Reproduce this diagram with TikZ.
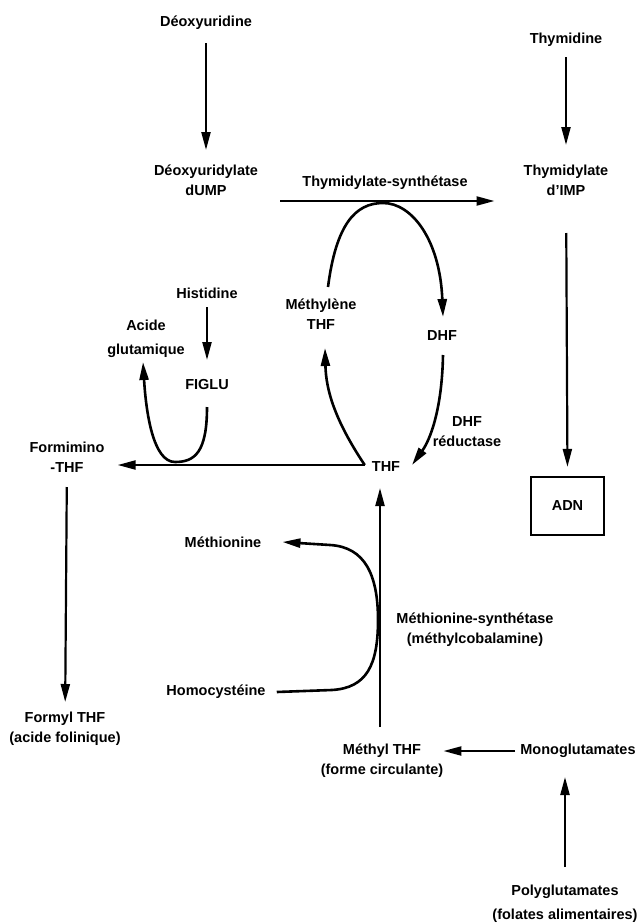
\documentclass[tikz,border=0pt]{standalone}
\usepackage{fontspec}
\setmainfont{Liberation Sans}
\usetikzlibrary{arrows.meta}
\begin{document}
\begin{tikzpicture}[x=1pt,y=-1pt,
  lbl/.style={font=\fontsize{14.5}{20}\selectfont\bfseries, align=center, inner sep=0pt},
  arr/.style={line width=2.2pt, -{Triangle[length=18pt,width=9pt]}},
  flow/.style={line width=2.6pt, -{Triangle[length=18pt,width=9pt]}}]
\useasboundingbox (0,0) rectangle (639,924);

% metabolites and enzymes
\node[lbl] (deoxyu)   at (206,23)  {Déoxyuridine};
\node[lbl] (dump)     at (206,180) {Déoxyuridylate\\dUMP};
\node[lbl] (thymidine) at (566,40) {Thymidine};
\node[lbl] (dtmp)     at (566,180) {Thymidylate\\d'IMP};
\node[lbl] (tslabel)  at (385,183) {Thymidylate-synthétase};
\node[lbl, draw, line width=2.2pt, minimum width=73pt, minimum height=58pt] (adn) at (567.5,506) {ADN};
\node[lbl] (histidine) at (207,293) {Histidine};
\node[lbl] (figlu)    at (207,385) {FIGLU};
\node[lbl] (acide)    at (146,339) {Acide\\[4pt]glutamique};
\node[lbl] (formimino) at (67,457) {Formimino\\-THF};
\node[lbl] (formyl)   at (65,729)  {Formyl THF\\(acide folinique)};
\node[lbl] (methylene) at (321,314) {Méthylène\\THF};
\node[lbl] (dhf)      at (442,336) {DHF};
\node[lbl] (dhfred)   at (467,432) {DHF\\réductase};
\node[lbl] (thf)      at (386,467) {THF};
\node[lbl] (methionine) at (223,542) {Méthionine};
\node[lbl] (homocysteine) at (216,692) {Homocystéine};
\node[lbl] (msynth)   at (475,630) {Méthionine-synthétase\\(méthylcobalamine)};
\node[lbl] (methylthf) at (382,761) {Méthyl THF\\(forme circulante)};
\node[lbl] (mono)     at (578,751) {Monoglutamates};
\node[lbl] (poly)     at (565,904) {Polyglutamates\\[4pt](folates alimentaires)};

% helper points
\coordinate (tsrow) at (0,201);
\coordinate (junc) at ([xshift=-7pt,yshift=2pt]thf.west);
\coordinate (tstouch) at (383,203);
\coordinate (mstouch) at (378,620);

% straight conversions
\draw[arr, shorten <=20pt, shorten >=30pt] (deoxyu.center) -- (dump.center);
\draw[arr, shorten <=17pt, shorten >=35pt] (thymidine.center) -- (dtmp.center);
\draw[arr, shorten <=22pt, shorten >=29pt] (dump.east |- tsrow) -- (dtmp.west |- tsrow);
\draw[arr, shorten <=53pt, shorten >=9pt] (dtmp.center) -- (adn.north);
\draw[arr, shorten <=14pt, shorten >=25pt] (histidine.center) -- (figlu.center);
\draw[arr, shorten >=13pt] (junc) -- (formimino.east |- junc);
\draw[arr, shorten <=30pt, shorten >=27pt] (formimino.center) -- (formyl.center);
\draw[arr] ([shift={(-2,-34)}]methylthf.center) -- ([shift={(-6,21)}]thf.center);
\draw[arr, shorten <=5pt] (mono.west) -- (mono.west -| methylthf.east);
\draw[arr] ([shift={(0,-37)}]poly.center) -- ([shift={(-13,26)}]mono.center);

% histidine branch: FIGLU -> acide glutamique
\draw[flow] ([shift={(0,22)}]figlu.center)
  .. controls +(0,45) and +(20,0) .. (175,462)
  .. controls +(-22,0) and +(3,50) .. ([shift={(-3,23)}]acide.center);

% folate cycle
\draw[flow] (junc) .. controls +(-30,-45) and +(1,42) .. ([shift={(4,34)}]methylene.center);
\draw[flow] ([shift={(7,-27)}]methylene.center)
  .. controls +(8,-62) and +(-28,0) .. (tstouch)
  .. controls +(29,0) and +(-3,-77) .. ([shift={(1,-19)}]dhf.center);
\draw[flow] ([shift={(1,19)}]dhf.center) .. controls +(-1,55) and +(18,-25) .. ([shift={(26,-2)}]thf.center);

% methionine synthase
\draw[flow] ([xshift=11pt]homocysteine.east) -- ++(55,-2)
  .. controls +(35,-2) and +(0,45) .. (mstouch)
  .. controls +(0,-45) and +(35,2) .. ++(-48,-75)
  -- ([xshift=21pt]methionine.east);
\end{tikzpicture}
\end{document}
